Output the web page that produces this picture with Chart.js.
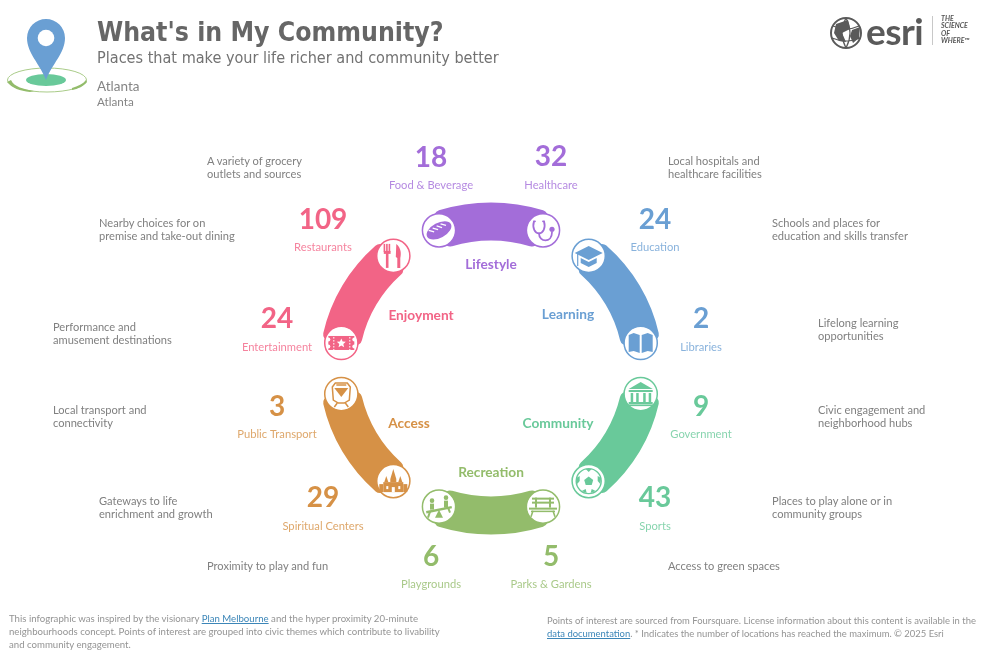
<!DOCTYPE html>
<html><head><meta charset="utf-8">
<script src="https://cdn.jsdelivr.net/npm/chart.js@4"></script>
<style>
html,body{margin:0;padding:0;background:#fff;width:981px;height:655px;overflow:hidden}
#wrap{position:relative;width:981px;height:655px}
canvas{position:absolute;left:0;top:0}
.t{position:absolute;white-space:pre;font-family:Lato,sans-serif;color:#6f6f6f}
.d{font-size:11.1px;line-height:13.3px;color:#808080}
.f{line-height:13px;color:#949494}
a{color:#3c86b8;text-decoration:underline}
svg{position:absolute;left:0;top:0}
</style></head><body><div id="wrap">
<canvas id="c" width="981" height="655"></canvas>
<svg width="981" height="655" style="pointer-events:none">
  <ellipse cx="46" cy="80" rx="20" ry="6" fill="#69C99A"/>
  <ellipse cx="47" cy="80" rx="39.5" ry="12" fill="none" stroke="#A9CB88" stroke-width="1"/>
  <path d="M7 82 C12 88 20 91 30 92 L34 91 C24 89 14 87 11 80Z" fill="#93BC6B"/>
  <path d="M72 88 C78 86 83 84 86 80 L87 82 C84 86 78 89 72 90Z" fill="#93BC6B"/>
  <path d="M46 80 C40 64 27 53 27 38 A19 19 0 1 1 65 38 C65 53 52 64 46 80Z" fill="#6A9FD3"/>
  <circle cx="46" cy="38" r="8.3" fill="#fff"/>
  <g fill="none" stroke="#5a5a5a">
    <circle cx="846" cy="33" r="15" stroke-width="2"/>
    <path d="M833 26 Q846 32 859 26M832 38 Q846 44 860 38M846 18 Q838 33 846 48M846 18 Q854 33 846 48" stroke-width="1.2"/>
  </g>
  <path d="M836 24 L848 20 L850 29 L842 33 L846 42 L839 41 L834 33Z M852 30 L860 27 L859 38 L853 43 L850 36Z" fill="#5a5a5a"/>
  <rect x="932" y="16" width="1" height="29" fill="#c8c8c8"/>
</svg>
<div class="t" style="left:97px;top:13px;font:bold 26.4px/38px 'DejaVu Sans Condensed','DejaVu Sans',sans-serif;font-stretch:condensed;color:#666">What's in My Community?</div>
<div class="t" style="left:97px;top:47px;font:16.1px/22px 'DejaVu Sans Condensed','DejaVu Sans',sans-serif;font-stretch:condensed;color:#727272">Places that make your life richer and community better</div>
<div class="t" style="left:97px;top:78px;font-size:13.5px;line-height:17px;color:#858585">Atlanta</div>
<div class="t" style="left:97px;top:93.5px;font-size:11.7px;line-height:15px;color:#858585">Atlanta</div>
<div class="t" style="left:866px;top:10px;font:bold 37px/42px Lato,sans-serif;color:#5a5a5a;letter-spacing:-.5px">esri</div>
<div class="t" style="left:941px;top:15px;font:italic bold 7px/7.4px Lato,sans-serif;color:#555">THE
SCIENCE
OF
WHERE™</div>
<div id="desc"></div>
<div class="t f" style="left:9px;top:612px;font-size:9.65px">This infographic was inspired by the visionary <a>Plan Melbourne</a> and the hyper proximity 20-minute
neighbourhoods concept. Points of interest are grouped into civic themes which contribute to livability
and community engagement.</div>
<div class="t f" style="left:547px;top:614px;font-size:9.45px">Points of interest are sourced from Foursquare. License information about this content is available in the
<a>data documentation</a>. * Indicates the number of locations has reached the maximum. © 2025 Esri</div>
</div>
<script>
const themes=["Lifestyle","Learning","Community","Recreation","Access","Enjoyment"];
const themeColors=["#A36DD9","#6A9FD3","#69C99A","#93BC6B","#D69146","#F26486"];
const arcSweeps=[40,20,40,20,40,20,40,20,40,20,40,20];
const categories=["Food & Beverage","Healthcare","Education","Libraries","Government","Sports","Parks & Gardens","Playgrounds","Spiritual Centers","Public Transport","Entertainment","Restaurants"];
const counts=[18,32,24,2,9,43,5,6,29,3,24,109];
const descriptions=["A variety of grocery\noutlets and sources","Local hospitals and\nhealthcare facilities","Schools and places for\neducation and skills transfer","Lifelong learning\nopportunities","Civic engagement and\nneighborhood hubs","Places to play alone or in\ncommunity groups","Access to green spaces","Proximity to play and fun","Gateways to life\nenrichment and growth","Local transport and\nconnectivity","Performance and\namusement destinations","Nearby choices for on\npremise and take-out dining"];

// layout (separate from the data)
const numPos=[[431,158],[551,157],[655,220],[701,319],[701,407],[655,498],[551,557],[431,557],[323,498],[277,407],[277,319],[323,220]];
const catY=[185.5,185.5,247.5,347.5,434.5,526.5,584.5,584.5,526.5,434.5,347.5,247.5];
const descPos=[[207,154],[668,154],[772,216],[818,316],[818,403],[772,494],[668,559],[207,559],[99,494],[53,403],[53,320],[99,216]];
const themePos=[[491,265],[568,315],[558,424],[491,473],[409,424],[421,316]];
const STRETCH=1.034;

descriptions.forEach((s,i)=>{const e=document.createElement('div');e.className='t d';e.style.left=descPos[i][0]+'px';e.style.top=descPos[i][1]+'px';e.textContent=s;document.getElementById('desc').appendChild(e);});

function P(ctx,pts,close=true){ctx.beginPath();pts.forEach((p,i)=>i?ctx.lineTo(p[0],p[1]):ctx.moveTo(p[0],p[1]));if(close)ctx.closePath();}
const icons=[
 function bread(c,col){c.save();c.rotate(-0.5);c.fillStyle=col;c.beginPath();c.ellipse(0,0,13.5,7.5,0,0,7);c.fill();c.strokeStyle='#fff';c.lineWidth=1.3;[-7,-2.5,2,6.5].forEach(x=>{c.beginPath();c.moveTo(x-2,-5);c.lineTo(x+2,-1);c.stroke();});c.restore();},
 function steth(c,col){c.strokeStyle=col;c.fillStyle=col;c.lineWidth=1.8;c.lineCap='round';c.beginPath();c.moveTo(-8,-9);c.lineTo(-9,-9);c.bezierCurveTo(-11,-2,-8,3,-4,3);c.bezierCurveTo(0,3,3,-2,1,-9);c.lineTo(0,-9);c.stroke();c.beginPath();c.moveTo(-4,3);c.bezierCurveTo(-4,12,9,13,9,2);c.stroke();c.beginPath();c.arc(9,-1,2.6,0,7);c.fill();},
 function cap(c,col){c.fillStyle=col;P(c,[[-14,-3],[0,-10],[14,-3],[0,4]]);c.fill();P(c,[[-8,2],[0,6],[8,2],[8,7],[0,11],[-8,7]]);c.fill();c.strokeStyle=col;c.lineWidth=1.2;c.beginPath();c.moveTo(-11,-2);c.lineTo(-11,10);c.stroke();},
 function book(c,col){c.fillStyle=col;P(c,[[-12,-8],[-7,-10],[-1,-8],[-1,10],[-7,8],[-12,9]]);c.fill();P(c,[[12,-8],[7,-10],[1,-8],[1,10],[7,8],[12,9]]);c.fill();},
 function gov(c,col){c.fillStyle=col;P(c,[[-12,-5],[0,-12],[12,-5]]);c.fill();c.fillRect(-12,-4,24,2);[-10,-4.5,2.5,8].forEach(x=>c.fillRect(x,-1,2.5,9));c.fillRect(-12,8,24,2.2);c.fillRect(-14,10.5,28,1.6);},
 function ball(c,col){c.strokeStyle=col;c.fillStyle=col;c.lineWidth=1.4;c.beginPath();c.arc(0,0,12.5,0,7);c.stroke();P(c,[[0,-4.5],[4.5,-1],[3,4],[-3,4],[-4.5,-1]]);c.fill();P(c,[[-3,-12],[3,-12],[0,-9]]);c.fill();P(c,[[-12.5,-3],[-9,-5],[-9,0],[-11.5,3]]);c.fill();P(c,[[12.5,-3],[9,-5],[9,0],[11.5,3]]);c.fill();P(c,[[-7,10],[-3,8],[-2,12]]);c.fill();P(c,[[7,10],[3,8],[2,12]]);c.fill();},
 function bench(c,col){c.fillStyle=col;c.fillRect(-11,-9,22,2);c.fillRect(-11,-5,22,2);c.fillRect(-14,1,28,2);c.fillRect(-12,4,24,1.5);c.fillRect(-8,-9,2,10);c.fillRect(6,-9,2,10);c.strokeStyle=col;c.lineWidth=1.6;c.beginPath();c.moveTo(-10,4);c.lineTo(-12,10);c.moveTo(10,4);c.lineTo(12,10);c.stroke();},
 function seesaw(c,col){c.fillStyle=col;c.strokeStyle=col;c.lineWidth=2;c.save();c.translate(0,3);c.rotate(-0.2);c.fillRect(-13,-1.2,26,2.4);c.restore();P(c,[[0,3],[4,11],[-4,11]]);c.fill();c.beginPath();c.arc(-7,-6,2.3,0,7);c.arc(7,-9,2.3,0,7);c.fill();c.fillRect(-9,-3,4,6);c.fillRect(5,-6,4,7);c.beginPath();c.moveTo(-9,5);c.lineTo(-11,11);c.moveTo(9,1);c.lineTo(11,6);c.stroke();},
 function church(c,col){c.fillStyle=col;P(c,[[0,-12],[3,-2],[3,1],[-3,1],[-3,-2]]);c.fill();P(c,[[-7,-5],[-5,1],[-9,1]]);c.fill();P(c,[[7,-5],[9,1],[5,1]]);c.fill();c.fillRect(-10,1,20,10);c.fillRect(-14,3,4,8);c.fillRect(10,3,4,8);c.fillStyle='#fff';c.fillRect(-1.5,6,3,5);c.fillRect(-7,5,2,3);c.fillRect(5,5,2,3);},
 function train(c,col){c.strokeStyle=col;c.fillStyle=col;c.lineWidth=1.5;P(c,[[-6,-11],[6,-11],[9,-7],[8,6],[3,9],[-3,9],[-8,6],[-9,-7]]);c.stroke();P(c,[[-7,-6],[7,-6],[0,3]]);c.fill();c.beginPath();c.moveTo(-4,9);c.lineTo(-7,13);c.moveTo(4,9);c.lineTo(7,13);c.moveTo(-5,-9);c.lineTo(5,-9);c.stroke();},
 function ticket(c,col){c.fillStyle=col;c.fillRect(-13,-7,26,14);c.fillStyle='#fff';[[-13,-3.5],[-13,3.5],[13,-3.5],[13,3.5]].forEach(p=>{c.beginPath();c.arc(p[0],p[1],2,0,7);c.fill();});for(let y=-6;y<7;y+=3){c.fillRect(-8,y,1,1.6);c.fillRect(8,y,1,1.6);}P(c,[[0,-4.5],[1.3,-1.4],[4.5,-1.2],[2,1],[2.8,4.2],[0,2.5],[-2.8,4.2],[-2,1],[-4.5,-1.2],[-1.3,-1.4]]);c.fill();},
 function cutlery(c,col){c.fillStyle=col;[-9,-6.5,-4].forEach(x=>c.fillRect(x-.7,-12,1.6,8));c.fillRect(-9.5,-5,6.8,3);c.fillRect(-7.4,-3,2.6,15);c.beginPath();c.moveTo(3,-12);c.bezierCurveTo(8,-8,8,-2,7,2);c.lineTo(7,12);c.lineTo(4,12);c.lineTo(4,2);c.lineTo(2.5,1);c.closePath();c.fill();}
];

const rig={id:'rig',
 beforeDatasetsDraw(ch){const c=ch.ctx,a=ch.getDatasetMeta(0).data[0];c.save();c.translate(a.x,a.y);c.scale(STRETCH,1);c.translate(-a.x,-a.y);},
 afterDatasetsDraw(ch){const c=ch.ctx;c.restore();
  const arcs=ch.getDatasetMeta(0).data;
  themes.forEach((name,ti)=>{
    const a=arcs[ti*2],col=themeColors[ti],mid=(a.innerRadius+a.outerRadius)/2;
    [a.startAngle,a.endAngle].forEach((ang,k)=>{
      const ci=ti*2+k,x=a.x+Math.cos(ang)*mid*STRETCH,y=a.y+Math.sin(ang)*mid;
      c.save();c.translate(x,y);
      c.beginPath();c.arc(0,0,16.6,0,7);c.fillStyle='#fff';c.fill();c.strokeStyle=col;c.lineWidth=1.5;c.stroke();
      icons[ci](c,col);c.restore();
      c.textAlign='center';c.textBaseline='middle';
      c.fillStyle=col;c.font='bold 28px Lato, sans-serif';
      c.fillText(String(counts[ci]),numPos[ci][0],numPos[ci][1]);
      c.globalAlpha=.8;c.font='11.2px Lato, sans-serif';
      c.fillText(categories[ci],numPos[ci][0],catY[ci]);
      c.globalAlpha=1;
    });
    c.fillStyle=col;c.font='bold 13.7px Lato, sans-serif';c.textAlign='center';c.textBaseline='middle';
    c.fillText(name,themePos[ti][0],themePos[ti][1]);
  });
 }};

new Chart(document.getElementById('c'),{type:'doughnut',plugins:[rig],
 data:{labels:themes.flatMap(t=>[t,""]),datasets:[{data:arcSweeps,
   backgroundColor:themeColors.flatMap(c=>[c,"rgba(0,0,0,0)"]),borderWidth:0,hoverOffset:0,offset:0,borderRadius:6.5}]},
 options:{responsive:false,animation:false,devicePixelRatio:1,rotation:-20,circumference:360,cutout:128,
  layout:{padding:{left:325,right:324,top:202.5,bottom:120.5}},
  plugins:{legend:{display:false},tooltip:{enabled:false},title:{display:false}},events:[]}
});
</script></body></html>
